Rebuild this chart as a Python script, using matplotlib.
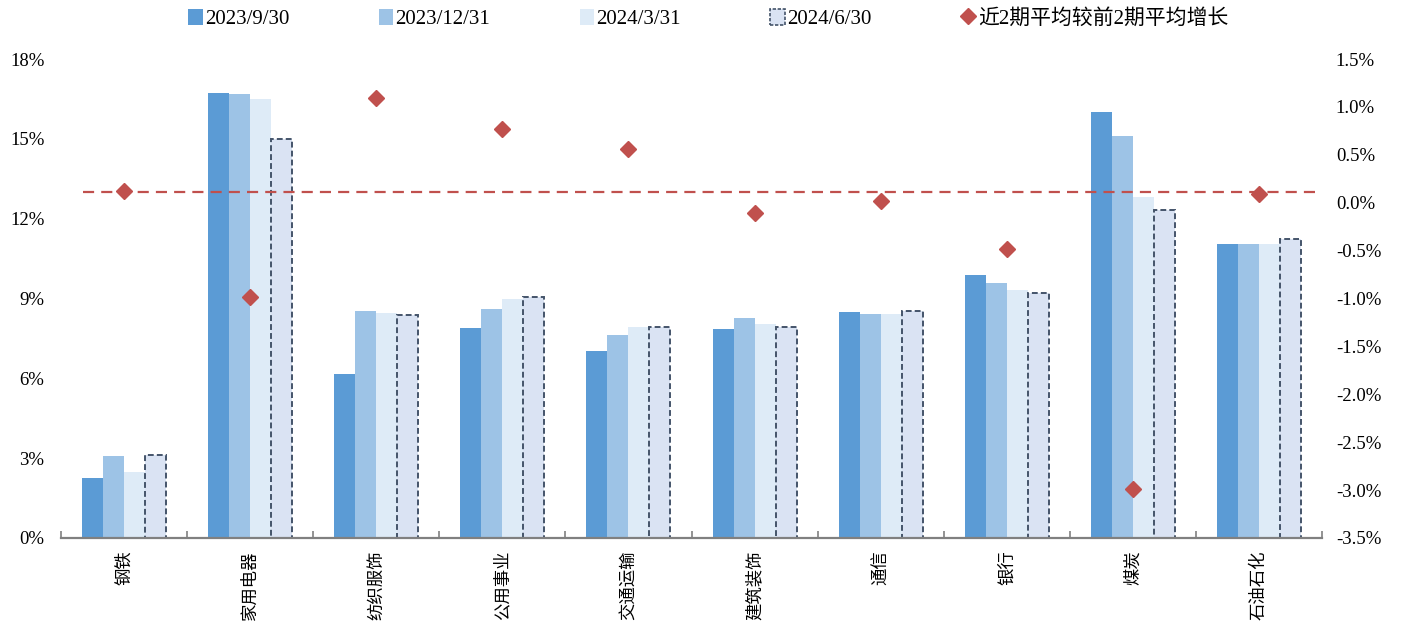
import matplotlib
matplotlib.use("Agg")
import matplotlib.pyplot as plt
from matplotlib.lines import Line2D
from matplotlib.patches import Patch
import numpy as np

plt.rcParams['font.family'] = ['Liberation Serif', 'Noto Sans CJK SC']
plt.rcParams['axes.unicode_minus'] = False

categories = ['钢铁', '家用电器', '纺织服饰', '公用事业', '交通运输',
              '建筑装饰', '通信', '银行', '煤炭', '石油石化']
series_labels = ['2023/9/30', '2023/12/31', '2024/3/31', '2024/6/30']

share_2023q3 = [2.25, 16.72, 6.16, 7.89, 7.03, 7.85, 8.49, 9.88, 16.00, 11.05]
share_2023q4 = [3.08, 16.68, 8.53, 8.60, 7.63, 8.27, 8.42, 9.58, 15.10, 11.05]
share_2024q1 = [2.48, 16.50, 8.46, 8.98, 7.93, 8.04, 8.42, 9.32, 12.81, 11.05]
share_2024q2 = [3.12, 15.00, 8.38, 9.06, 7.93, 7.93, 8.53, 9.21, 12.33, 11.24]

growth = [0.12, -0.98, 1.09, 0.77, 0.56, -0.11, 0.02, -0.48, -2.99, 0.09]
growth_label = '近2期平均较前2期平均增长'

reference_level = 13.0  # left-axis level of the dashed guide line

left_ticks = [0, 3, 6, 9, 12, 15, 18]
right_ticks = [1.5, 1.0, 0.5, 0.0, -0.5, -1.0, -1.5, -2.0, -2.5, -3.0, -3.5]

fill_colors = ['#5B9BD5', '#9DC3E6', '#DEEBF7', '#DAE3F3']
edge_dark = '#44546A'
red = '#C0504D'

fig = plt.figure(figsize=(14.02, 6.28), dpi=100)
ax = fig.add_axes([61 / 1402, 1 - 538 / 628, 1261 / 1402, 479 / 628])
ax2 = ax.twinx()

x = np.arange(len(categories))
w = 0.1667
all_series = [share_2023q3, share_2023q4, share_2024q1, share_2024q2]
for i, vals in enumerate(all_series):
    pos = x + (i - 1.5) * w
    if i < 3:
        ax.bar(pos, vals, width=w, color=fill_colors[i], edgecolor='none', zorder=2)
    else:
        ax.bar(pos, vals, width=w, color=fill_colors[i], edgecolor=edge_dark,
               linewidth=1.4, linestyle=(0, (3, 1.6)), zorder=2)

ax.axhline(reference_level, xmin=(83 - 61) / 1261, xmax=1.0, color=red,
           linewidth=1.6, linestyle=(0, (5, 3.2)), zorder=4)

ax2.plot(x, growth, linestyle='none', marker='D', markersize=8,
         color=red, markeredgecolor=red, zorder=5)

ax.set_xlim(-0.5, len(categories) - 0.5)
ax.set_ylim(0, 18)
ax2.set_ylim(-3.5, 1.5)

ax.set_yticks(left_ticks)
ax.set_yticklabels([f'{v}%' for v in left_ticks])
ax2.set_yticks(right_ticks)
ax2.set_yticklabels([f'{v:.1f}%' for v in right_ticks])

ax.set_xticks(x)
ax.set_xticklabels(categories, rotation=90, fontsize=12.5,
                   family=['Noto Sans CJK SC'])
ax.set_xticks(np.arange(len(categories) + 1) - 0.5, minor=True)
ax.tick_params(axis='x', which='major', length=0, pad=9)
ax.tick_params(axis='x', which='minor', direction='in', length=5,
               width=1.2, color='#808080')

ax.tick_params(axis='y', length=0, pad=12, labelsize=13.5)
ax2.tick_params(axis='y', length=0, pad=10, labelsize=13.5)

for a in (ax, ax2):
    for side in ('top', 'left', 'right', 'bottom'):
        a.spines[side].set_visible(False)
ax.spines['bottom'].set_visible(True)
ax.spines['bottom'].set_color('#808080')
ax.spines['bottom'].set_linewidth(1.6)

handles = [Patch(facecolor=fill_colors[0], edgecolor='none'),
           Patch(facecolor=fill_colors[1], edgecolor='none'),
           Patch(facecolor=fill_colors[2], edgecolor='none'),
           Patch(facecolor=fill_colors[3], edgecolor=edge_dark,
                 linestyle=(0, (2, 1)), linewidth=1.2),
           Line2D([], [], linestyle='none', marker='D', markersize=8,
                  color=red)]
labels = series_labels + [growth_label]
fig.legend(handles, labels, loc='center', bbox_to_anchor=(0.505, 0.97),
           ncol=5, frameon=False, handlelength=0.7,
           handleheight=0.8, handletextpad=0.1, columnspacing=4.3,
           prop={'family': ['Liberation Serif', 'Noto Sans CJK SC'], 'size': 15})

fig.savefig('out.png', dpi=100)
